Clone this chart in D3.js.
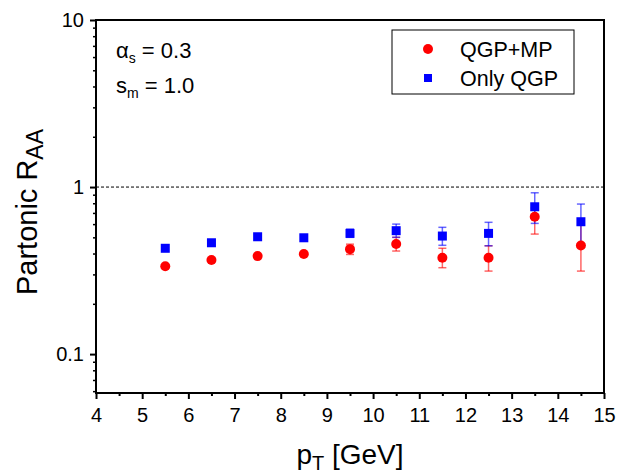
<!DOCTYPE html>
<html><head><meta charset="utf-8">
<script src="https://cdn.jsdelivr.net/npm/d3@7"></script>
<style>body{margin:0;background:#fff}svg{display:block;font-family:"Liberation Sans",Arial,sans-serif}</style>
</head><body><svg id="c" width="630" height="473"></svg>
<script>
const pT = [5.5, 6.5, 7.5, 8.5, 9.5, 10.5, 11.5, 12.5, 13.5, 14.5];
const mpValues = [0.336, 0.366, 0.386, 0.397, 0.425, 0.456, 0.377, 0.377, 0.664, 0.447];
const mpUpper  = [0.336, 0.366, 0.386, 0.397, 0.455, 0.500, 0.430, 0.445, 0.749, 0.592];
const mpLower  = [0.336, 0.366, 0.386, 0.397, 0.395, 0.414, 0.329, 0.314, 0.523, 0.314];
const qgpValues = [0.430, 0.464, 0.504, 0.497, 0.528, 0.548, 0.509, 0.528, 0.762, 0.620];
const qgpUpper  = [0.430, 0.464, 0.504, 0.497, 0.560, 0.600, 0.574, 0.615, 0.924, 0.791];
const qgpLower  = [0.430, 0.464, 0.504, 0.497, 0.500, 0.500, 0.448, 0.445, 0.606, 0.450];
const xTicks = [4,5,6,7,8,9,10,11,12,13,14,15];
const yTicks = [0.1, 1, 10];
const yTickLabels = ["0.1", "1", "10"];

const svg = d3.select("#c");
const L = 96, R = 604, T = 20, B = 393;
const x = d3.scaleLinear().domain([4, 15]).range([L, R]);
const y = d3.scaleLog().domain([0.0585, 10]).range([B, T]);

// minor ticks
const xMinor = d3.range(4.5, 15, 1);
const yMinor = [];
[0.01, 0.1, 1].forEach(d => { for (let k = 2; k <= 9; k++) { const v = d * k; if (v >= 0.0585 && v <= 10) yMinor.push(v); } });

const gx = svg.append("g").attr("transform", `translate(0,${B})`)
  .call(d3.axisBottom(x).tickValues(xTicks).tickSize(6).tickPadding(4).tickFormat(d3.format("d")));
gx.select(".domain").remove();
gx.selectAll("line").attr("stroke-width", 2);
gx.selectAll("text").attr("font-size", 20).attr("fill", "#000").attr("dy", "0.95em");
svg.append("g").attr("transform", `translate(0,${B})`)
  .call(d3.axisBottom(x).tickValues(xMinor).tickSize(3).tickFormat(""))
  .call(g => g.select(".domain").remove()).selectAll("line").attr("stroke-width", 2);

const gy = svg.append("g").attr("transform", `translate(${L},0)`)
  .call(d3.axisLeft(y).tickValues(yTicks).tickSize(6).tickPadding(6).tickFormat((d, i) => yTickLabels[i]));
gy.select(".domain").remove();
gy.selectAll("line").attr("stroke-width", 2);
gy.selectAll("text").attr("font-size", 20).attr("fill", "#000");
svg.append("g").attr("transform", `translate(${L},0)`)
  .call(d3.axisLeft(y).tickValues(yMinor).tickSize(3).tickFormat(""))
  .call(g => g.select(".domain").remove()).selectAll("line").attr("stroke-width", 1.5);

// reference line
svg.append("line").attr("x1", L).attr("x2", R).attr("y1", y(1)).attr("y2", y(1))
  .attr("stroke", "#000").attr("stroke-width", 1).attr("stroke-dasharray", "3,2");

// frame
svg.append("rect").attr("x", L).attr("y", T).attr("width", R - L).attr("height", B - T)
  .attr("fill", "none").attr("stroke", "#000").attr("stroke-width", 2);

function errBars(vals, up, lo, color) {
  const g = svg.append("g").attr("stroke", color).attr("stroke-opacity", 0.6).attr("stroke-width", 1.5);
  pT.forEach((p, i) => {
    if (up[i] === lo[i]) return;
    const cx = x(p);
    g.append("line").attr("x1", cx).attr("x2", cx).attr("y1", y(up[i])).attr("y2", y(lo[i]));
    g.append("line").attr("x1", cx - 4).attr("x2", cx + 4).attr("y1", y(up[i])).attr("y2", y(up[i]));
    g.append("line").attr("x1", cx - 4).attr("x2", cx + 4).attr("y1", y(lo[i])).attr("y2", y(lo[i]));
  });
}
errBars(mpValues, mpUpper, mpLower, "#ff0000");
errBars(qgpValues, qgpUpper, qgpLower, "#0000ff");

svg.append("g").selectAll("circle").data(pT).join("circle")
  .attr("cx", d => x(d)).attr("cy", (d, i) => y(mpValues[i])).attr("r", 5).attr("fill", "#ff0000");
svg.append("g").selectAll("rect").data(pT).join("rect")
  .attr("x", d => x(d) - 4.5).attr("y", (d, i) => y(qgpValues[i]) - 4.5)
  .attr("width", 9).attr("height", 9).attr("fill", "#0000ff");

// legend
svg.append("rect").attr("x", 392).attr("y", 30).attr("width", 182).attr("height", 64)
  .attr("fill", "#fff").attr("stroke", "#000").attr("stroke-width", 1);
svg.append("circle").attr("cx", 428).attr("cy", 49).attr("r", 5).attr("fill", "#ff0000");
svg.append("rect").attr("x", 424).attr("y", 74).attr("width", 8).attr("height", 8).attr("fill", "#0000ff");
svg.append("text").attr("x", 460).attr("y", 57).attr("font-size", 21.5).text("QGP+MP");
svg.append("text").attr("x", 460).attr("y", 86).attr("font-size", 21.5).text("Only QGP");

// annotations
const a1 = svg.append("text").attr("x", 116).attr("y", 58).attr("font-size", 22);
a1.append("tspan").text("α");
a1.append("tspan").attr("font-size", 14).attr("dy", 5).text("s");
a1.append("tspan").attr("dy", -5).text(" = 0.3");
const a2 = svg.append("text").attr("x", 116).attr("y", 93).attr("font-size", 22);
a2.append("tspan").text("s");
a2.append("tspan").attr("font-size", 14).attr("dy", 5).text("m");
a2.append("tspan").attr("dy", -5).text(" = 1.0");

// axis titles
const xt = svg.append("text").attr("x", 350).attr("y", 464).attr("text-anchor", "middle").attr("font-size", 28);
xt.append("tspan").text("p");
xt.append("tspan").attr("font-size", 20).attr("dy", 6).text("T");
xt.append("tspan").attr("dy", -6).text(" [GeV]");
const yt = svg.append("text").attr("transform", "translate(37,212) rotate(-90)").attr("text-anchor", "middle").attr("font-size", 29);
yt.append("tspan").text("Partonic R");
yt.append("tspan").attr("font-size", 23).attr("dy", 6).text("AA");
</script></body></html>
